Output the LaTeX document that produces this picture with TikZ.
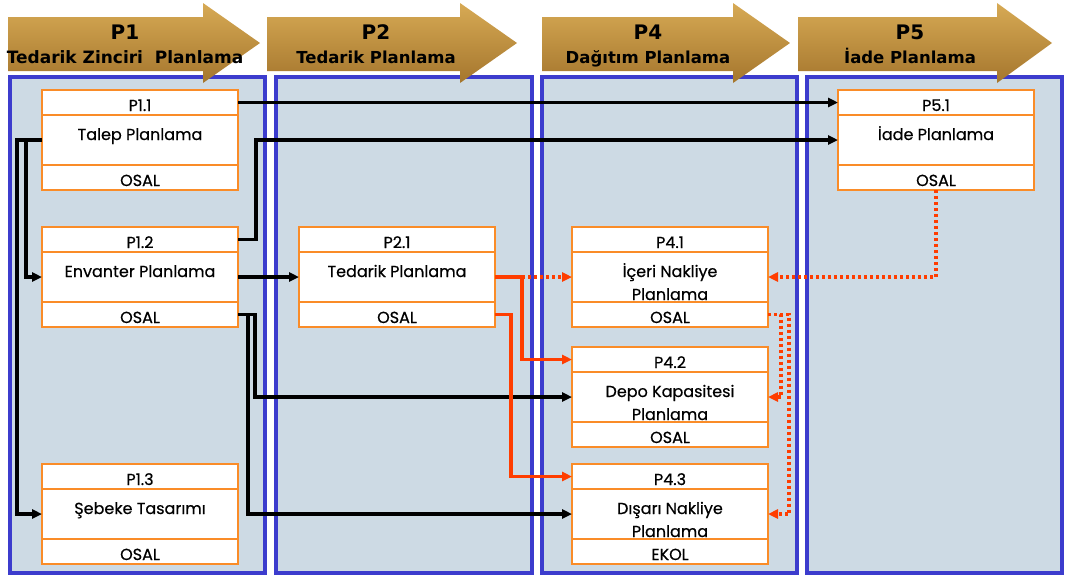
\documentclass[tikz,border=0pt]{standalone}
\usepackage{fontspec}
\setmainfont{Poppins}[FakeBold=0.5]
\newfontfamily\hdfont{DejaVu Sans}
\usetikzlibrary{arrows.meta}

\definecolor{panelfill}{RGB}{205,218,228}
\definecolor{panelblue}{RGB}{60,60,205}
\definecolor{boxorange}{RGB}{250,140,40}
\definecolor{linkred}{RGB}{255,61,0}
\definecolor{goldtop}{RGB}{215,170,85}
\definecolor{goldmid}{RGB}{250,204,108}
\definecolor{goldbot}{RGB}{165,118,45}

\tikzset{
  panel/.style={draw=panelblue, line width=3.4pt, fill=panelfill},
  phase/.style={top color=goldtop, middle color=goldmid, bottom color=goldbot, draw=none},
  phasetxt/.style={font=\hdfont\bfseries\fontsize{16.5}{16.5}\selectfont, anchor=base, inner sep=0},
  phaseid/.style={font=\hdfont\bfseries\fontsize{20}{20}\selectfont, anchor=base, inner sep=0},
  cell/.style={draw=boxorange, line width=2.2pt, fill=white, minimum width=196pt,
    inner sep=0, outer sep=0},
  hdrcell/.style={cell, minimum height=25pt},
  midcell/.style={cell, minimum height=50pt},
  lbl/.style={font=\fontsize{16}{16}\selectfont, anchor=base, inner sep=0},
  link/.style={draw=black, line width=3.1pt, -{Triangle[length=10pt,width=9pt]}},
  rlink/.style={draw=linkred, line width=3.1pt, -{Triangle[length=10pt,width=9pt]}},
  rdot/.style={rlink, dash pattern=on 3pt off 3pt},
}

% process box: name, left x, top y, id, title line 1, title line 2, owner
\newcommand\procbox[7]{%
  \node[hdrcell, anchor=north west] (#1h) at (#2,#3) {};
  \node[midcell, anchor=north] (#1m) at (#1h.south) {};
  \node[hdrcell, anchor=north] (#1b) at (#1m.south) {};
  \node[lbl] at ([yshift=-21pt]#1h.north) {#4};
  \node[lbl] at ([yshift=-25pt]#1m.north) {#5};
  \node[lbl] at ([yshift=-48pt]#1m.north) {#6};
  \node[lbl] at ([yshift=-21pt]#1b.north) {#7};
}

% phase arrow: left x, body end x, tip x, text centre x, id, name
\newcommand\phasearrow[6]{%
  \path[phase] (#1,17) -- (#2,17) -- (#2,3) -- (#3,43) -- (#2,83) -- (#2,71) -- (#1,71) -- cycle;
  \node[phaseid] at (#4,39) {#5};
  \node[phasetxt] at (#4,63) {#6};
}

\begin{document}
\begin{tikzpicture}[x=1pt, y=-1pt]
\useasboundingbox (0,0) rectangle (1069,576);

% swimlane panels
\path[panel] (10,77) rectangle (265,573);
\path[panel] (276,77) rectangle (532,573);
\path[panel] (542,77) rectangle (797,573);
\path[panel] (807,77) rectangle (1062,573);

% phase headers
\phasearrow{8}{203}{260}{125}{P1}{\fontsize{17}{17}\selectfont Tedarik Zinciri\ \ Planlama}
\phasearrow{267}{460}{517}{376}{P2}{Tedarik Planlama}
\phasearrow{542}{733}{790}{648}{P4}{Dağıtım Planlama}
\phasearrow{798}{997}{1052}{910}{P5}{İade Planlama}

% process boxes
\procbox{P11}{42}{90}{P1.1}{Talep Planlama}{}{OSAL}
\procbox{P12}{42}{227}{P1.2}{Envanter Planlama}{}{OSAL}
\procbox{P13}{42}{464}{P1.3}{Şebeke Tasarımı}{}{OSAL}
\procbox{P21}{299}{227}{P2.1}{Tedarik Planlama}{}{OSAL}
\procbox{P41}{572}{227}{P4.1}{İçeri Nakliye}{Planlama}{OSAL}
\procbox{P42}{572}{347}{P4.2}{Depo Kapasitesi}{Planlama}{OSAL}
\procbox{P43}{572}{464}{P4.3}{Dışarı Nakliye}{Planlama}{EKOL}
\procbox{P51}{838}{90}{P5.1}{İade Planlama}{}{OSAL}

% information flows
\draw[link] (P11h.east) -- (P51h.west);
\draw[link] (P12h.east) -- ++(18,0) |- (P51m.west);
\draw[link] (P11m.west) -- ++(-25,0) |- (P13m.west);
\draw[link] ([xshift=-16pt]P11m.west) |- (P12m.west);
\draw[link] (P12m.east) -- (P21m.west);
\draw[link] (P12b.east) -- ++(17,0) |- (P42m.west);
\draw[link] (P12b.east) -- ++(10,0) |- (P43m.west);

\draw[rlink] (P21m.east) -- ++(27,0) |- (P42h.west);
\draw[rdot] ([xshift=27pt]P21m.east) -- (P41m.west);
\draw[rlink] (P21b.east) -- ++(16,0) |- (P43h.west);
\draw[rdot] (P51b.south) |- (P41m.east);
\draw[rdot] (P41b.east) -- ++(13,0) |- (P42m.east);
\draw[rdot] (P41b.east) -- ++(21,0) |- (P43m.east);
\end{tikzpicture}
\end{document}
